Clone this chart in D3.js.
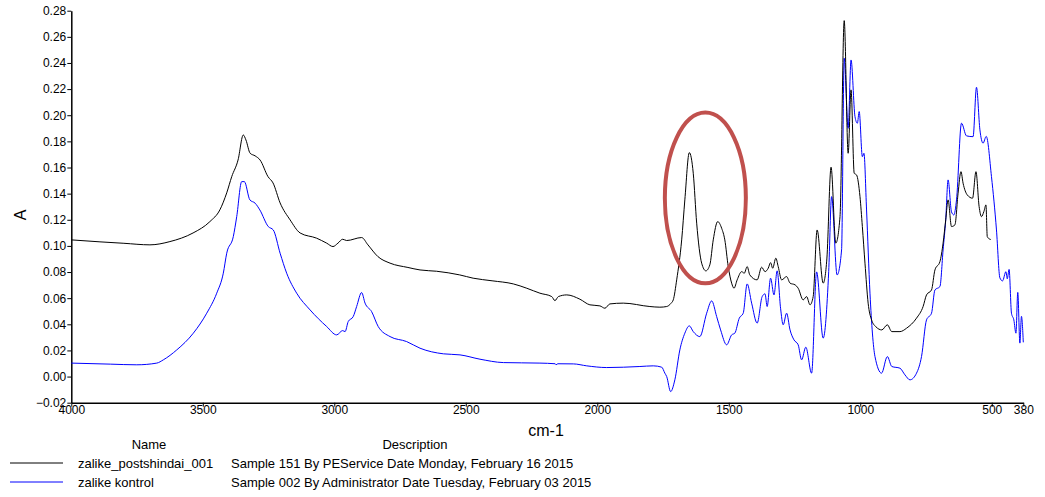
<!DOCTYPE html>
<html><head><meta charset="utf-8">
<script src="https://cdn.jsdelivr.net/npm/d3@7"></script>
<style>
html,body{margin:0;padding:0;background:#fff;}
svg{display:block;font-family:"Liberation Sans",Arial,sans-serif;}
</style></head>
<body><svg id="chart" width="1045" height="497"></svg>
<script>
// ---- data (wavenumber cm-1, absorbance A) ----
const postshindai = [
[4000,0.1046],[3891,0.1031],[3800,0.1020],[3701,0.1008],[3625,0.1033],[3537,0.1099],[3473,0.1186],[3435,0.1276],[3409,0.1406],[3390,0.1530],[3366,0.1657],[3346,0.1849],[3336,0.1811],[3320,0.1709],[3301,0.1689],[3282,0.1657],[3252,0.1530],[3233,0.1482],[3206,0.1329],[3168,0.1199],[3130,0.1099],[3067,0.1059],[3029,0.1021],[3005,0.0995],[2986,0.1021],[2968,0.1051],[2953,0.1041],[2896,0.1064],[2872,0.1008],[2834,0.0918],[2788,0.0868],[2720,0.0835],[2674,0.0816],[2611,0.0806],[2523,0.0778],[2472,0.0753],[2400,0.0733],[2319,0.0709],[2268,0.0676],[2218,0.0638],[2173,0.0612],[2161,0.0581],[2148,0.0612],[2116,0.0625],[2066,0.0592],[2028,0.0549],[1990,0.0541],[1971,0.0523],[1952,0.0556],[1901,0.0562],[1800,0.0536],[1762,0.0531],[1736,0.0536],[1720,0.0560],[1711,0.0587],[1698,0.0740],[1679,0.1046],[1667,0.1352],[1650,0.1714],[1635,0.1556],[1622,0.1174],[1603,0.0868],[1587,0.0809],[1572,0.0855],[1559,0.1046],[1542,0.1186],[1527,0.1135],[1515,0.1046],[1502,0.0842],[1489,0.0715],[1480,0.0676],[1468,0.0740],[1451,0.0803],[1441,0.0791],[1430,0.0842],[1420,0.0778],[1392,0.0740],[1375,0.0837],[1362,0.0803],[1350,0.0829],[1341,0.0872],[1333,0.0829],[1321,0.0906],[1312,0.0842],[1299,0.0740],[1280,0.0765],[1267,0.0715],[1248,0.0702],[1236,0.0676],[1217,0.0587],[1204,0.0612],[1191,0.0549],[1179,0.0612],[1164,0.1122],[1141,0.0715],[1127,0.0900],[1111,0.1602],[1093,0.1021],[1077,0.1224],[1061,0.2724],[1046,0.1709],[1035,0.2194],[1023,0.1556],[1014,0.1543],[1001,0.1377],[992,0.1148],[982,0.0868],[970,0.0562],[957,0.0434],[940,0.0380],[918,0.0357],[897,0.0396],[880,0.0344],[849,0.0344],[824,0.0370],[786,0.0447],[761,0.0536],[748,0.0625],[729,0.0663],[716,0.0816],[697,0.0880],[685,0.1021],[675,0.1199],[666,0.1352],[653,0.1148],[640,0.1161],[628,0.1403],[617,0.1568],[609,0.1480],[593,0.1390],[573,0.1365],[560,0.1568],[548,0.1301],[539,0.1224],[530,0.1262],[522,0.1314],[517,0.1071],[507,0.1051],[504,0.1049]
];
const kontrol = [
[4000,0.0103],[3850,0.0095],[3751,0.0090],[3675,0.0103],[3650,0.0128],[3599,0.0204],[3536,0.0332],[3485,0.0485],[3447,0.0638],[3422,0.0791],[3409,0.0944],[3384,0.1071],[3371,0.1224],[3352,0.1492],[3342,0.1492],[3321,0.1352],[3301,0.1327],[3283,0.1275],[3251,0.1148],[3232,0.1122],[3206,0.0944],[3181,0.0791],[3143,0.0638],[3092,0.0510],[3029,0.0383],[2991,0.0319],[2968,0.0352],[2959,0.0344],[2947,0.0421],[2928,0.0459],[2915,0.0536],[2896,0.0643],[2883,0.0562],[2858,0.0497],[2833,0.0383],[2788,0.0306],[2725,0.0268],[2674,0.0217],[2585,0.0174],[2522,0.0166],[2446,0.0133],[2357,0.0107],[2218,0.0103],[2160,0.0098],[2157,0.0090],[2150,0.0098],[2091,0.0097],[2040,0.0082],[1964,0.0069],[1838,0.0077],[1787,0.0082],[1755,0.0072],[1743,0.0026],[1736,0.0000],[1721,-0.0115],[1705,-0.0025],[1686,0.0204],[1667,0.0332],[1650,0.0388],[1635,0.0344],[1610,0.0306],[1584,0.0485],[1565,0.0579],[1546,0.0459],[1531,0.0357],[1508,0.0243],[1489,0.0319],[1477,0.0332],[1460,0.0447],[1445,0.0485],[1430,0.0709],[1413,0.0562],[1392,0.0409],[1373,0.0612],[1362,0.0633],[1354,0.0536],[1341,0.0753],[1328,0.0625],[1316,0.0809],[1303,0.0523],[1293,0.0396],[1280,0.0485],[1267,0.0357],[1252,0.0281],[1236,0.0243],[1223,0.0128],[1207,0.0225],[1185,0.0026],[1166,0.0801],[1141,0.0294],[1120,0.0803],[1109,0.1377],[1088,0.0778],[1071,0.0969],[1061,0.2436],[1046,0.1900],[1035,0.2423],[1020,0.1989],[1011,0.1939],[1004,0.2028],[992,0.1683],[986,0.1709],[976,0.1275],[963,0.0638],[944,0.0153],[919,0.0026],[897,0.0153],[880,0.0077],[849,0.0064],[830,0.0013],[811,-0.0025],[786,0.0026],[767,0.0153],[748,0.0434],[729,0.0485],[716,0.0663],[697,0.0689],[685,0.0969],[675,0.1199],[666,0.1505],[653,0.1260],[644,0.1237],[634,0.1352],[615,0.1939],[596,0.1842],[571,0.1836],[558,0.2214],[545,0.1888],[533,0.1786],[521,0.1838],[501,0.1530],[482,0.1122],[469,0.0755],[459,0.0732],[446,0.0803],[441,0.0748],[434,0.0820],[425,0.0485],[416,0.0434],[408,0.0332],[401,0.0644],[393,0.0256],[387,0.0461],[380,0.0262]
];
const xTicks = [4000,3500,3000,2500,2000,1500,1000,500,380];
const yTicks = [-0.02,0.00,0.02,0.04,0.06,0.08,0.10,0.12,0.14,0.16,0.18,0.20,0.22,0.24,0.26,0.28];
const seriesNames = ["zalike_postshindai_001","zalike kontrol"];
const seriesDescs = ["Sample 151 By PEService Date Monday, February 16 2015","Sample 002 By Administrator Date Tuesday, February 03 2015"];
const seriesColors = ["#000000","#0000ff"];
const highlight = {center:[1589,0.1367], rw:154, ra:0.0653};

// ---- chart ----
const svg = d3.select("#chart");
const mLeft = 71.3, mRight = 1023.3, mTop = 10.7, mBottom = 402.7;
const x = d3.scaleLinear().domain([4000,380]).range([mLeft,mRight]);
const y = d3.scaleLinear().domain([-0.02,0.28]).range([mBottom,mTop]);

const xAxis = d3.axisBottom(x).tickValues(xTicks).tickFormat(d3.format("d")).tickSize(4).tickSizeOuter(0);
const yAxis = d3.axisLeft(y).tickValues(yTicks).tickFormat(d3.format(".2f")).tickSize(4).tickSizeOuter(0);

const gx = svg.append("g").attr("transform",`translate(0,${mBottom})`).call(xAxis);
const gy = svg.append("g").attr("transform",`translate(${mLeft},0)`).call(yAxis);
[gx,gy].forEach(g=>{
  g.selectAll("path.domain").attr("stroke","#000").attr("stroke-width",1.5);
  g.selectAll(".tick line").attr("stroke","#000");
  g.selectAll(".tick text").attr("font-size",12).attr("fill","#000").attr("font-family","Liberation Sans, Arial, sans-serif");
});
gx.selectAll(".tick text").attr("dy","0.55em").attr("y",5);
gy.selectAll(".tick text").attr("x",-5);

svg.append("text").attr("x",546).attr("y",436).attr("text-anchor","middle").attr("font-size",16).text("cm-1");
svg.append("text").attr("transform","translate(26,215) rotate(-90)").attr("text-anchor","middle").attr("font-size",16).text("A");

const line = d3.line().x(d=>x(d[0])).y(d=>y(d[1])).curve(d3.curveMonotoneX);
svg.append("path").datum(kontrol).attr("fill","none").attr("stroke",seriesColors[1]).attr("stroke-width",1).attr("d",line);
svg.append("path").datum(postshindai).attr("fill","none").attr("stroke",seriesColors[0]).attr("stroke-width",1).attr("d",line);

// highlight ellipse
const cx = x(highlight.center[0]), cy = y(highlight.center[1]);
svg.append("ellipse").attr("cx",cx).attr("cy",cy)
  .attr("rx",Math.abs(x(highlight.center[0]+highlight.rw)-cx))
  .attr("ry",Math.abs(y(highlight.center[1]+highlight.ra)-cy))
  .attr("fill","none").attr("stroke","#c0504d").attr("stroke-width",4);

// legend
const lg = svg.append("g").attr("font-size",13).attr("fill","#000");
lg.append("text").attr("x",149).attr("y",449).attr("text-anchor","middle").text("Name");
lg.append("text").attr("x",415).attr("y",449).attr("text-anchor","middle").text("Description");
seriesNames.forEach((n,i)=>{
  const yy = 463 + i*19;
  lg.append("line").attr("x1",10).attr("x2",63).attr("y1",yy).attr("y2",yy).attr("stroke",seriesColors[i]).attr("stroke-width",1);
  lg.append("text").attr("x",78).attr("y",yy+4.5).text(n);
  lg.append("text").attr("x",231).attr("y",yy+4.5).text(seriesDescs[i]);
});
</script></body></html>
